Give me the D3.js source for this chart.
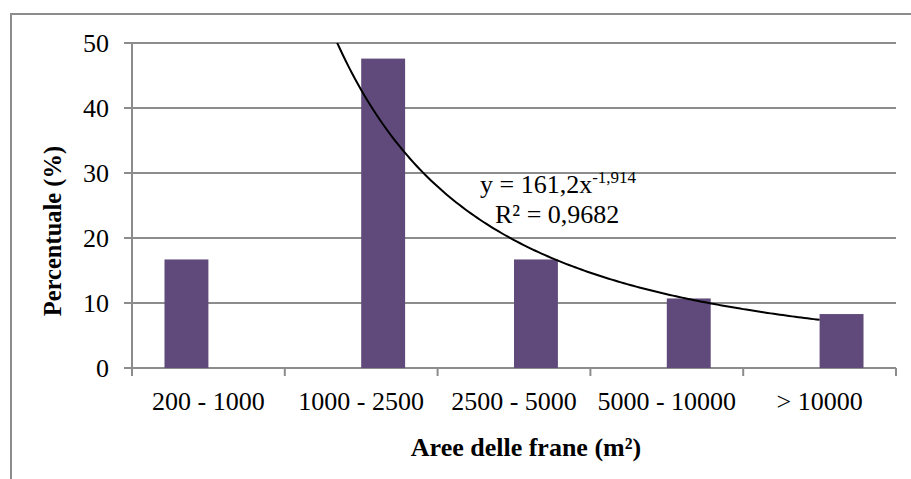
<!DOCTYPE html>
<html><head><meta charset="utf-8">
<script src="https://cdn.jsdelivr.net/npm/d3@7"></script>
<style>
html,body{margin:0;padding:0;background:#fff;}
svg{display:block;font-family:"Liberation Serif","Times New Roman",serif;}
</style></head>
<body>
<script>
const categories = ["200 - 1000", "1000 - 2500", "2500 - 5000", "5000 - 10000", "> 10000"];
const seriesA = [16.7, 0, 0, 0, 0];
const seriesB = [0, 47.6, 16.7, 10.7, 8.3];
const yTicks = [0, 10, 20, 30, 40, 50];
const trendCoef = 161.2;
const trendExp = -1.914;
const eqMain = "y = 161,2x";
const eqSup = "-1,914";
const r2Label = "R² = 0,9682";
const xTitle = "Aree delle frane (m²)";
const yTitle = "Percentuale (%)";

const W = 911, H = 479;
const L = 132, R = 896, T = 43, B = 368;
const svg = d3.select("body").append("svg").attr("width", W).attr("height", H);

// outer border (cropped on right/bottom)
svg.append("rect").attr("x", 11).attr("y", 14).attr("width", 1000).attr("height", 1000)
  .attr("fill", "none").attr("stroke", "#8c8c8c").attr("stroke-width", 2);

const x = d3.scaleBand().domain(categories).range([L, R]).paddingInner(0).paddingOuter(0);
const x1 = d3.scaleBand().domain([0, 1]).range([0, x.bandwidth()]).paddingInner(0).paddingOuter(0.74);
const y = d3.scaleLinear().domain([0, 50]).range([B, T]);

// gridlines
svg.append("g").selectAll("line").data(yTicks).join("line")
  .attr("x1", L - 8).attr("x2", R).attr("y1", d => y(d)).attr("y2", d => y(d))
  .attr("stroke", "#8c8c8c").attr("stroke-width", 2);

// y axis line
svg.append("line").attr("x1", L).attr("x2", L).attr("y1", T).attr("y2", B + 8)
  .attr("stroke", "#8c8c8c").attr("stroke-width", 2);

// category ticks
const catBounds = categories.map(c => x(c)).concat([R]);
svg.append("g").selectAll("line").data(catBounds.slice(1)).join("line")
  .attr("x1", d => d).attr("x2", d => d).attr("y1", B).attr("y2", B + 8)
  .attr("stroke", "#8c8c8c").attr("stroke-width", 2);

// y tick labels
svg.append("g").selectAll("text").data(yTicks).join("text")
  .attr("x", 109).attr("y", d => y(d)).attr("dy", "0.35em")
  .attr("text-anchor", "end").attr("font-size", 26).attr("fill", "#000").text(d => d);

// x tick labels
svg.append("g").selectAll("text").data(categories).join("text")
  .attr("x", d => x(d) + x.bandwidth() / 2).attr("y", 410)
  .attr("text-anchor", "middle").attr("font-size", 26).attr("fill", "#000").text(d => d);

// bars
const barColor = "#604a7b";
[seriesA, seriesB].forEach((s, si) => {
  svg.append("g").selectAll("rect").data(s.map((v, i) => ({v, c: categories[i]})).filter(d => d.v > 0)).join("rect")
    .attr("x", d => x(d.c) + x1(si)).attr("width", x1.bandwidth())
    .attr("y", d => y(d.v)).attr("height", d => y(0) - y(d.v))
    .attr("fill", barColor);
});

// trendline (power) over category index 1..5
svg.append("defs").append("clipPath").attr("id", "plotclip")
  .append("rect").attr("x", L).attr("y", T).attr("width", R - L).attr("height", B - T);
const xc = d3.scaleLinear().domain([1, categories.length])
  .range([x(categories[0]) + x.bandwidth() / 2, x(categories[categories.length - 1]) + x.bandwidth() / 2]);
const tpts = d3.range(1, 5.0001, 0.02).map(k => [xc(k), y(trendCoef * Math.pow(k, trendExp))]);
svg.append("path").attr("d", d3.line()(tpts)).attr("fill", "none")
  .attr("stroke", "#000").attr("stroke-width", 2).attr("clip-path", "url(#plotclip)");

// equation labels
const eq = svg.append("text").attr("x", 480).attr("y", 193).attr("font-size", 26).attr("fill", "#000");
eq.append("tspan").text(eqMain);
eq.append("tspan").attr("font-size", 17).attr("dy", -10).text(eqSup);
svg.append("text").attr("x", 495).attr("y", 223).attr("font-size", 26).attr("fill", "#000").text(r2Label);

// axis titles
svg.append("text").attr("x", 526).attr("y", 456).attr("text-anchor", "middle")
  .attr("font-size", 26).attr("font-weight", "bold").attr("fill", "#000").text(xTitle);
svg.append("text").attr("transform", "translate(61,231) rotate(-90)").attr("text-anchor", "middle")
  .attr("font-size", 24.5).attr("font-weight", "bold").attr("fill", "#000").text(yTitle);
</script>
</body></html>
